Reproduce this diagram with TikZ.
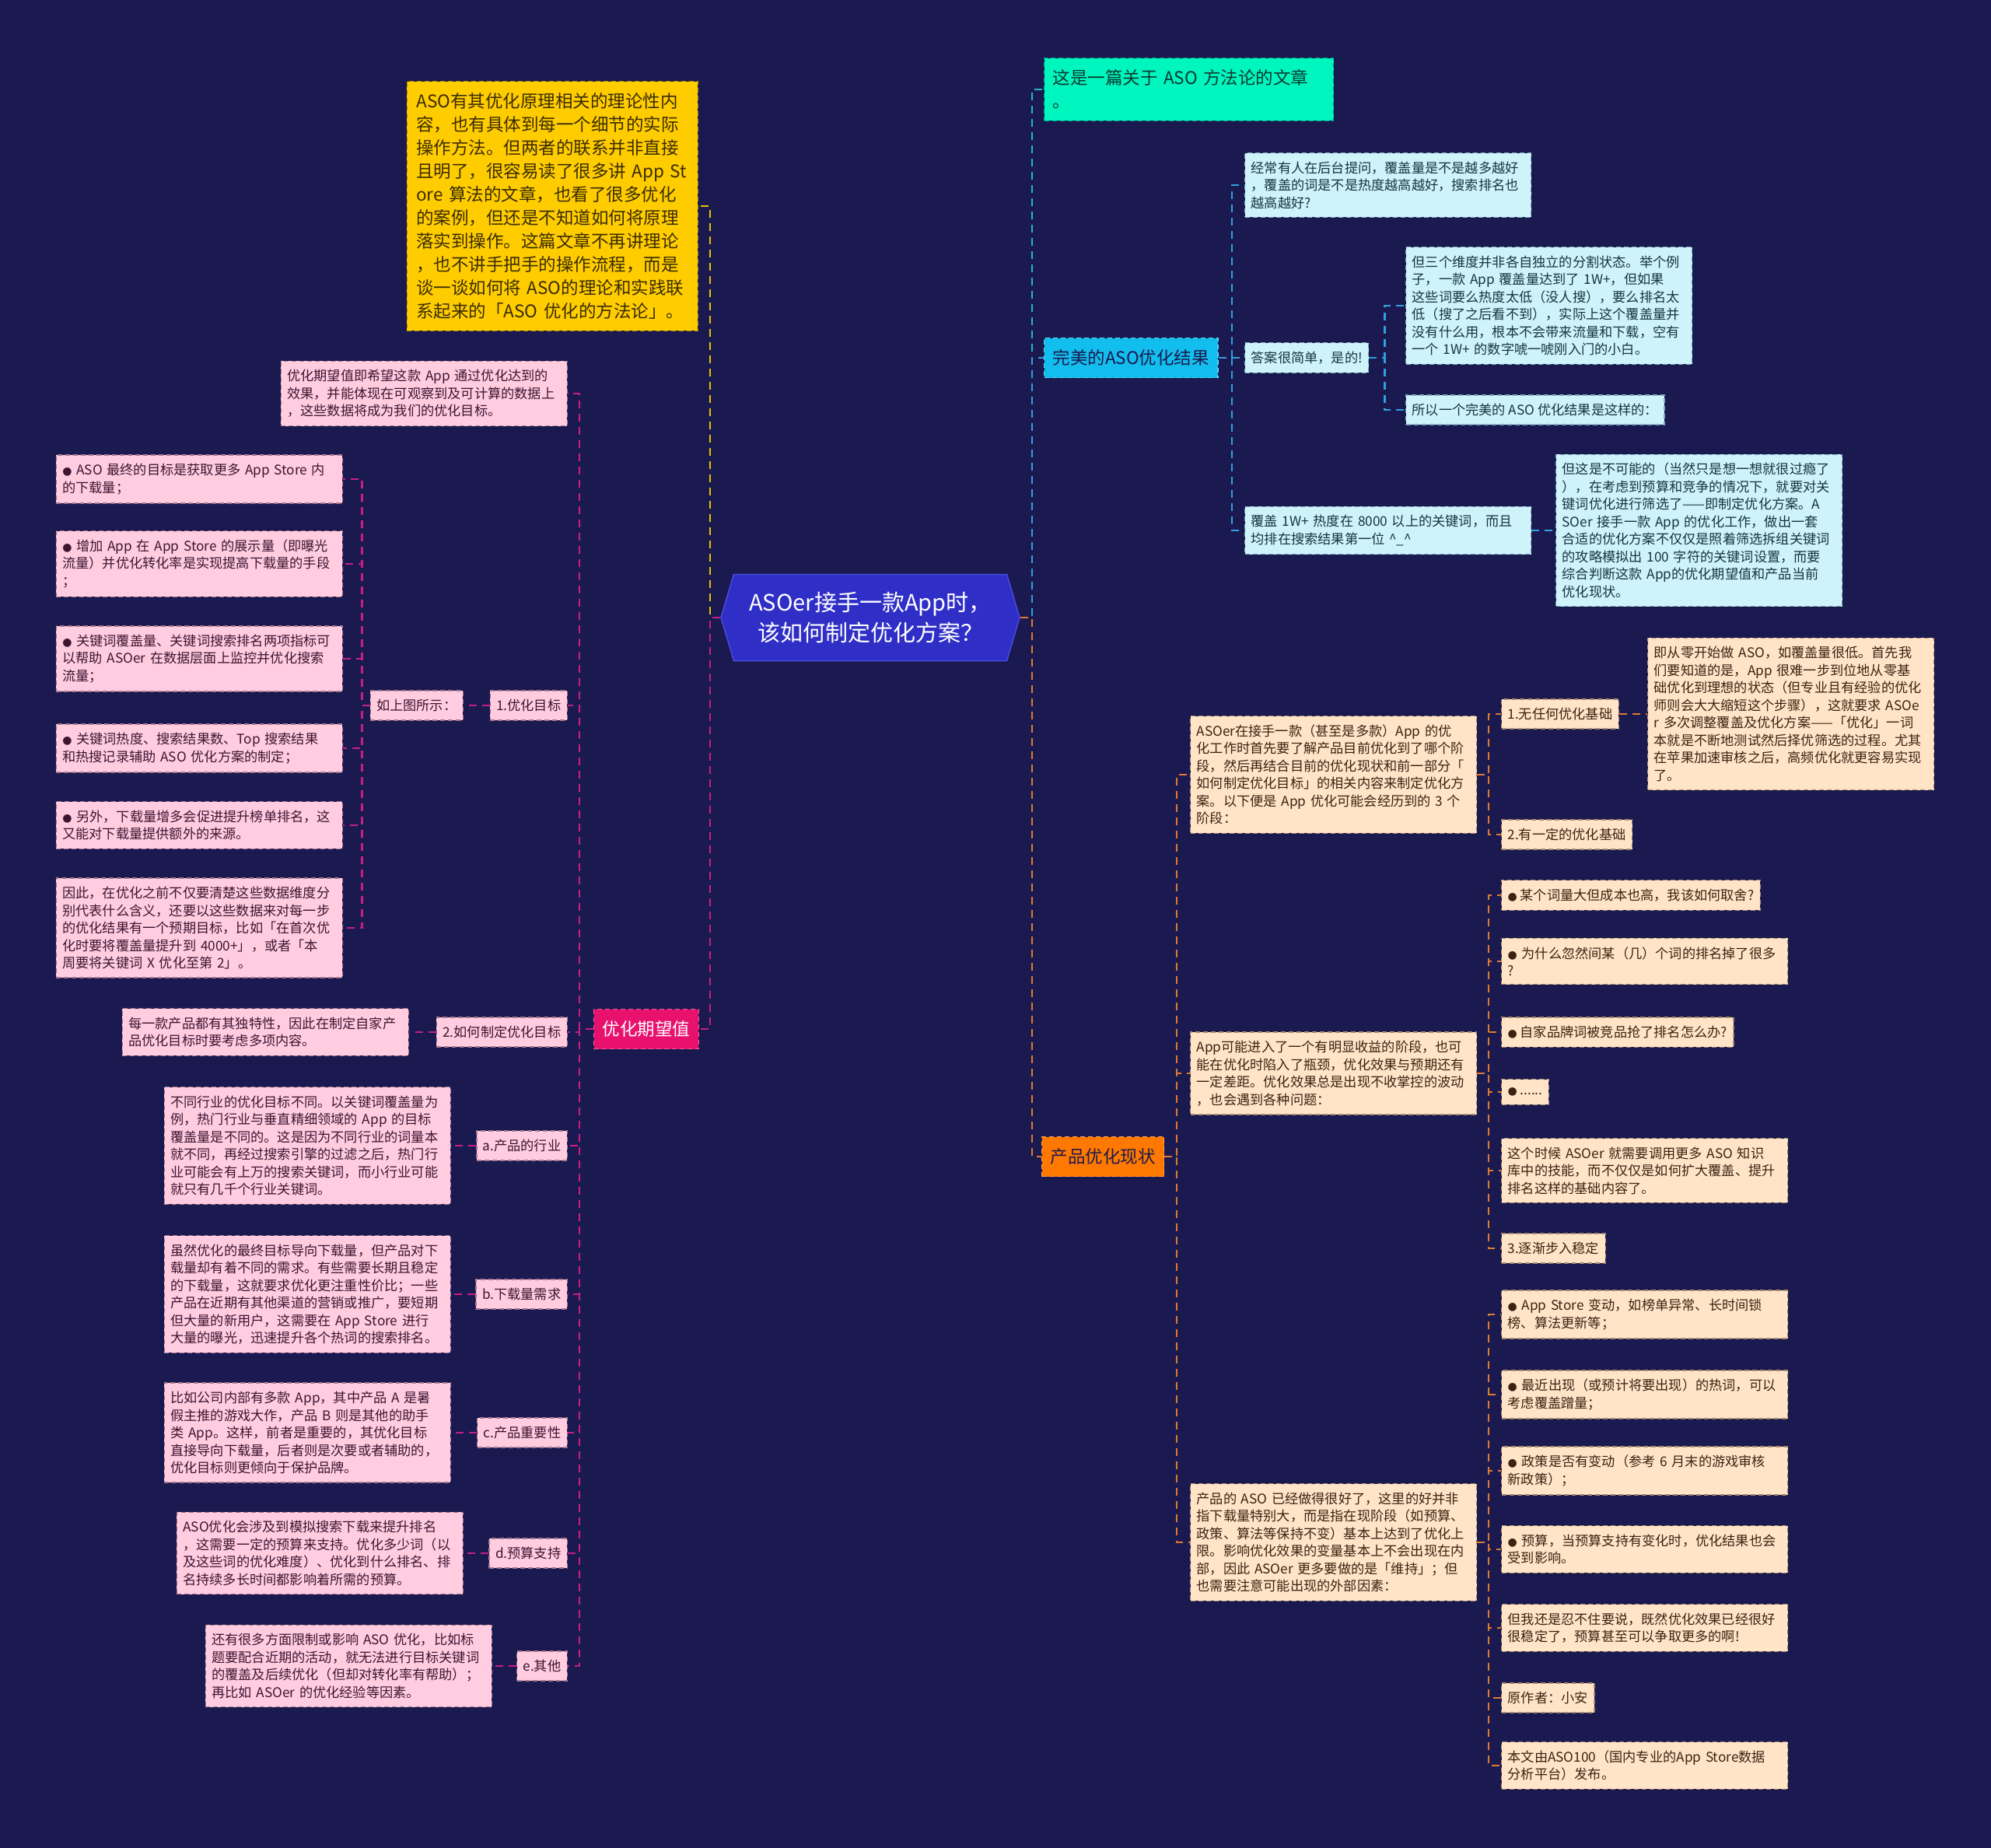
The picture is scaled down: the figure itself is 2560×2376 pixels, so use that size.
\documentclass[tikz,border=0pt]{standalone}
\usepackage{fontspec}
\setmainfont{Noto Sans CJK SC}
\newfontfamily\djv{DejaVu Sans}
\usetikzlibrary{shapes.symbols}
\definecolor{bg}{HTML}{1B1A50}
\definecolor{rootF}{HTML}{2F2FC8}
\definecolor{rootD}{HTML}{4A4AE0}
\definecolor{pinkF}{HTML}{FFCCE0}
\definecolor{pinkD}{HTML}{A87890}
\definecolor{pinkT}{HTML}{3D1530}
\definecolor{peachF}{HTML}{FFE4C8}
\definecolor{peachD}{HTML}{A88A6C}
\definecolor{peachT}{HTML}{3A2310}
\definecolor{cyanF}{HTML}{CFF3FB}
\definecolor{cyanD}{HTML}{7AAABA}
\definecolor{cyanT}{HTML}{16343E}
\definecolor{yelF}{HTML}{FFCC00}
\definecolor{yelD}{HTML}{A88A00}
\definecolor{yelT}{HTML}{3A2D00}
\definecolor{mintF}{HTML}{00F5BF}
\definecolor{mintD}{HTML}{00A080}
\definecolor{mintT}{HTML}{0B3A30}
\definecolor{magF}{HTML}{E8126E}
\definecolor{cyanBF}{HTML}{12BEEE}
\definecolor{orF}{HTML}{FF7800}
\definecolor{magC}{HTML}{C81E82}
\definecolor{yelC}{HTML}{E8C000}
\definecolor{mintC}{HTML}{20B8C8}
\definecolor{cyanC}{HTML}{30A0E0}
\definecolor{orC}{HTML}{E07A30}
\newcommand\sfnt{\fontsize{17.2}{22.5}\selectfont}
\newcommand\mfnt{\fontsize{22.5}{30}\selectfont}
\newcommand\cfnt{\fontsize{29}{39}\selectfont}
\newcommand\bul{{\djv\fontsize{14}{14}\selectfont ●}}
\begin{document}
\begin{tikzpicture}[x=1pt,y=-1pt,
  conn/.style={line width=2.2pt, dash pattern=on 10pt off 7pt},
  box/.style={line width=1.3pt, dash pattern=on 6pt off 4pt, font=\sfnt, align=left, inner xsep=8pt, inner ysep=11pt},
  wide/.style={text width=352pt},
  pinkb/.style={box, fill=pinkF, draw=pinkD, text=pinkT},
  peachb/.style={box, fill=peachF, draw=peachD, text=peachT},
  cyanb/.style={box, fill=cyanF, draw=cyanD, text=cyanT},
  branch/.style={box, font=\mfnt, inner xsep=11pt, inner ysep=0pt, minimum height=51pt},
]
\fill[bg] (0,0) rectangle (2560,2376);
\useasboundingbox (0,0) rectangle (2560,2376);

% root
\node[signal, signal to=east and west, signal pointer angle=147, fill=rootF, draw=rootD, line width=1.5pt,
  text=white, font=\cfnt, align=center, minimum width=384pt, minimum height=111pt, inner sep=4pt]
  (root) at (1119,794) {ASOer接手一款App时，\\该如何制定优化方案？};

% ---------- left ----------
\node[box, fill=yelF, draw=yelD, text=yelT, font=\mfnt, text width=350pt, inner xsep=12pt, inner ysep=15pt, anchor=east]
  (yb) at (898,265) {ASO有其优化原理相关的理论性内\\容，也有具体到每一个细节的实际\\操作方法。但两者的联系并非直接\\且明了，很容易读了很多讲 App St\\ore 算法的文章，也看了很多优化\\的案例，但还是不知道如何将原理\\落实到操作。这篇文章不再讲理论\\，也不讲手把手的操作流程，而是\\谈一谈如何将 ASO的理论和实践联\\系起来的「ASO 优化的方法论」。};

\node[branch, fill=magF, draw=magF!70!white, text=white] (ywq) at (831,1323) {优化期望值};

\node[pinkb, wide, anchor=east] (c1) at (730,506) {优化期望值即希望这款 App 通过优化达到的\\效果，并能体现在可观察到及可计算的数据上\\，这些数据将成为我们的优化目标。};
\node[pinkb, anchor=east] (g1) at (730,907) {1.优化目标};
\node[pinkb, anchor=east] (g1s) at (596,907) {如上图所示：};
\node[pinkb, wide, anchor=east] (l1) at (441,616) {\bul\ ASO 最终的目标是获取更多 App Store 内\\的下载量；};
\node[pinkb, wide, anchor=east] (l2) at (441,725) {\bul\ 增加 App 在 App Store 的展示量（即曝光\\流量）并优化转化率是实现提高下载量的手段\\；};
\node[pinkb, wide, anchor=east] (l3) at (441,847) {\bul\ 关键词覆盖量、关键词搜索排名两项指标可\\以帮助 ASOer 在数据层面上监控并优化搜索\\流量；};
\node[pinkb, wide, anchor=east] (l4) at (441,962) {\bul\ 关键词热度、搜索结果数、Top 搜索结果\\和热搜记录辅助 ASO 优化方案的制定；};
\node[pinkb, wide, anchor=east] (l5) at (441,1061) {\bul\ 另外，下载量增多会促进提升榜单排名，这\\又能对下载量提供额外的来源。};
\node[pinkb, wide, anchor=east] (l6) at (441,1193) {因此，在优化之前不仅要清楚这些数据维度分\\别代表什么含义，还要以这些数据来对每一步\\的优化结果有一个预期目标，比如「在首次优\\化时要将覆盖量提升到 4000+」，或者「本\\周要将关键词 X 优化至第 2」。};

\node[pinkb, anchor=east] (g2) at (730,1327) {2.如何制定优化目标};
\node[pinkb, wide, anchor=east] (g2c) at (526,1327) {每一款产品都有其独特性，因此在制定自家产\\品优化目标时要考虑多项内容。};
\node[pinkb, anchor=east] (ga) at (730,1473) {a.产品的行业};
\node[pinkb, wide, anchor=east] (gac) at (580,1473) {不同行业的优化目标不同。以关键词覆盖量为\\例，热门行业与垂直精细领域的 App 的目标\\覆盖量是不同的。这是因为不同行业的词量本\\就不同，再经过搜索引擎的过滤之后，热门行\\业可能会有上万的搜索关键词，而小行业可能\\就只有几千个行业关键词。};
\node[pinkb, anchor=east] (gb) at (730,1664) {b.下载量需求};
\node[pinkb, wide, anchor=east] (gbc) at (580,1664) {虽然优化的最终目标导向下载量，但产品对下\\载量却有着不同的需求。有些需要长期且稳定\\的下载量，这就要求优化更注重性价比；一些\\产品在近期有其他渠道的营销或推广，要短期\\但大量的新用户，这需要在 App Store 进行\\大量的曝光，迅速提升各个热词的搜索排名。};
\node[pinkb, anchor=east] (gc) at (730,1842) {c.产品重要性};
\node[pinkb, wide, anchor=east] (gcc) at (580,1842) {比如公司内部有多款 App，其中产品 A 是暑\\假主推的游戏大作，产品 B 则是其他的助手\\类 App。这样，前者是重要的，其优化目标\\直接导向下载量，后者则是次要或者辅助的，\\优化目标则更倾向于保护品牌。};
\node[pinkb, anchor=east] (gd) at (730,1997) {d.预算支持};
\node[pinkb, wide, anchor=east] (gdc) at (596,1997) {ASO优化会涉及到模拟搜索下载来提升排名\\，这需要一定的预算来支持。优化多少词（以\\及这些词的优化难度）、优化到什么排名、排\\名持续多长时间都影响着所需的预算。};
\node[pinkb, anchor=east] (ge) at (730,2142) {e.其他};
\node[pinkb, wide, anchor=east] (gec) at (633,2142) {还有很多方面限制或影响 ASO 优化，比如标\\题要配合近期的活动，就无法进行目标关键词\\的覆盖及后续优化（但却对转化率有帮助）；\\再比如 ASOer 的优化经验等因素。};

% ---------- right ----------
\node[box, fill=mintF, draw=mintD, text=mintT, font=\mfnt, text width=350pt, inner xsep=11pt, inner ysep=15pt, anchor=west]
  (top) at (1342,115) {这是一篇关于 ASO 方法论的文章\\。};
\node[branch, fill=cyanBF, draw=cyanBF!70!white, text=bg, anchor=west] (wm) at (1342,460) {完美的ASO优化结果};
\node[cyanb, wide, anchor=west] (r1) at (1600,238) {经常有人在后台提问，覆盖量是不是越多越好\\，覆盖的词是不是热度越高越好，搜索排名也\\越高越好?};
\node[cyanb, anchor=west] (r2) at (1600,460) {答案很简单，是的!};
\node[cyanb, wide, anchor=west] (r3) at (1600,682) {覆盖 1W+ 热度在 8000 以上的关键词，而且\\均排在搜索结果第一位 \textasciicircum\_\textasciicircum};
\node[cyanb, wide, anchor=west] (r2a) at (1807,393) {但三个维度并非各自独立的分割状态。举个例\\子，一款 App 覆盖量达到了 1W+，但如果\\这些词要么热度太低（没人搜），要么排名太\\低（搜了之后看不到），实际上这个覆盖量并\\没有什么用，根本不会带来流量和下载，空有\\一个 1W+ 的数字唬一唬刚入门的小白。};
\node[cyanb, anchor=west] (r2b) at (1807,527) {所以一个完美的 ASO 优化结果是这样的：};
\node[cyanb, wide, anchor=west] (r3a) at (2000,682) {但这是不可能的（当然只是想一想就很过瘾了\\），在考虑到预算和竞争的情况下，就要对关\\键词优化进行筛选了——即制定优化方案。A\\SOer 接手一款 App 的优化工作，做出一套\\合适的优化方案不仅仅是照着筛选拆组关键词\\的攻略模拟出 100 字符的关键词设置，而要\\综合判断这款 App的优化期望值和产品当前\\优化现状。};

\node[branch, fill=orF, draw=orF!70!white, text=bg, anchor=west] (cp) at (1339,1487) {产品优化现状};
\node[peachb, wide, anchor=west] (o1) at (1530,996) {ASOer在接手一款（甚至是多款）App 的优\\化工作时首先要了解产品目前优化到了哪个阶\\段，然后再结合目前的优化现状和前一部分「\\如何制定优化目标」的相关内容来制定优化方\\案。以下便是 App 优化可能会经历到的 3 个\\阶段：};
\node[peachb, anchor=west] (o1a) at (1930,918) {1.无任何优化基础};
\node[peachb, anchor=west] (o1b) at (1930,1073) {2.有一定的优化基础};
\node[peachb, wide, anchor=west] (o1aa) at (2118,918) {即从零开始做 ASO，如覆盖量很低。首先我\\们要知道的是，App 很难一步到位地从零基\\础优化到理想的状态（但专业且有经验的优化\\师则会大大缩短这个步骤），这就要求 ASOe\\r 多次调整覆盖及优化方案——「优化」一词\\本就是不断地测试然后择优筛选的过程。尤其\\在苹果加速审核之后，高频优化就更容易实现\\了。};

\node[peachb, wide, anchor=west] (o2) at (1530,1380) {App可能进入了一个有明显收益的阶段，也可\\能在优化时陷入了瓶颈，优化效果与预期还有\\一定差距。优化效果总是出现不收掌控的波动\\，也会遇到各种问题：};
\node[peachb, anchor=west] (p1) at (1930,1151) {\bul\ 某个词量大但成本也高，我该如何取舍?};
\node[peachb, wide, anchor=west] (p2) at (1930,1236) {\bul\ 为什么忽然间某（几）个词的排名掉了很多\\?};
\node[peachb, anchor=west] (p3) at (1930,1327) {\bul\ 自家品牌词被竞品抢了排名怎么办?};
\node[peachb, anchor=west] (p4) at (1930,1404) {\bul\ ......};
\node[peachb, wide, anchor=west] (p5) at (1930,1505) {这个时候 ASOer 就需要调用更多 ASO 知识\\库中的技能，而不仅仅是如何扩大覆盖、提升\\排名这样的基础内容了。};
\node[peachb, anchor=west] (p6) at (1930,1605) {3.逐渐步入稳定};

\node[peachb, wide, anchor=west] (o3) at (1530,1983) {产品的 ASO 已经做得很好了，这里的好并非\\指下载量特别大，而是指在现阶段（如预算、\\政策、算法等保持不变）基本上达到了优化上\\限。影响优化效果的变量基本上不会出现在内\\部，因此 ASOer 更多要做的是「维持」；但\\也需要注意可能出现的外部因素：};
\node[peachb, wide, anchor=west] (q1) at (1930,1690) {\bul\ App Store 变动，如榜单异常、长时间锁\\榜、算法更新等；};
\node[peachb, wide, anchor=west] (q2) at (1930,1793) {\bul\ 最近出现（或预计将要出现）的热词，可以\\考虑覆盖蹭量；};
\node[peachb, wide, anchor=west] (q3) at (1930,1891) {\bul\ 政策是否有变动（参考 6 月末的游戏审核\\新政策）；};
\node[peachb, wide, anchor=west] (q4) at (1930,1992) {\bul\ 预算，当预算支持有变化时，优化结果也会\\受到影响。};
\node[peachb, wide, anchor=west] (q5) at (1930,2093) {但我还是忍不住要说，既然优化效果已经很好\\很稳定了，预算甚至可以争取更多的啊!};
\node[peachb, anchor=west] (q6) at (1930,2183) {原作者：小安};
\node[peachb, wide, anchor=west] (q7) at (1930,2270) {本文由ASO100（国内专业的App Store数据\\分析平台）发布。};

% ---------- connectors ----------
\draw[conn, yelC] (root.west) -- ++(-13,0) |- (yb.east);
\draw[conn, magC] (root.west) -- ++(-13,0) |- (ywq.east);
\foreach \n in {c1,g1,g2,ga,gb,gc,gd,ge}
  \draw[conn, magC] (ywq.west) -- ++(-18,0) |- (\n.east);
\draw[conn, magC] (g1.west) -- (g1s.east);
\foreach \n in {l1,l2,l3,l4,l5,l6}
  \draw[conn, magC] (g1s.west) -- ++(-10,0) |- (\n.east);
\draw[conn, magC] (g2.west) -- (g2c.east);
\draw[conn, magC] (ga.west) -- (gac.east);
\draw[conn, magC] (gb.west) -- (gbc.east);
\draw[conn, magC] (gc.west) -- (gcc.east);
\draw[conn, magC] (gd.west) -- (gdc.east);
\draw[conn, magC] (ge.west) -- (gec.east);

\draw[conn, mintC] (root.east) -- ++(15,0) |- (top.west);
\draw[conn, cyanC] (root.east) -- ++(15,0) |- (wm.west);
\draw[conn, orC] (root.east) -- ++(15,0) |- (cp.west);
\foreach \n in {r1,r2,r3}
  \draw[conn, cyanC] (wm.east) -- ++(17,0) |- (\n.west);
\foreach \n in {r2a,r2b}
  \draw[conn, cyanC] (r2.east) -- ++(20,0) |- (\n.west);
\draw[conn, cyanC] (r3.east) -- (r3a.west);

\foreach \n in {o1,o2,o3}
  \draw[conn, orC] (cp.east) -- ++(16,0) |- (\n.west);
\foreach \n in {o1a,o1b}
  \draw[conn, orC] (o1.east) -- ++(15,0) |- (\n.west);
\draw[conn, orC] (o1a.east) -- (o1aa.west);
\foreach \n in {p1,p2,p3,p4,p5,p6}
  \draw[conn, orC] (o2.east) -- ++(15,0) |- (\n.west);
\foreach \n in {q1,q2,q3,q4,q5,q6,q7}
  \draw[conn, orC] (o3.east) -- ++(15,0) |- (\n.west);
\end{tikzpicture}
\end{document}
